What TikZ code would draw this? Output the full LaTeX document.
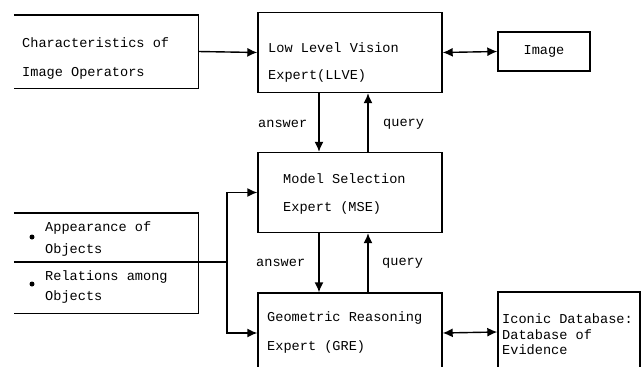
\documentclass[tikz,border=0pt]{standalone}
\usepackage{fontspec}
\setmonofont{Liberation Mono}
\usetikzlibrary{arrows.meta,positioning}

\begin{document}
\begin{tikzpicture}[x=1pt, y=-1pt, >={Latex[length=10pt,width=9pt]},
  box/.style={draw, line width=1.4pt, inner sep=0pt},
  openbox/.style={inner sep=0pt},
  txt/.style={anchor=west, inner sep=0pt, font=\ttfamily\fontsize{13.6}{15}\selectfont},
  link/.style={line width=1.4pt}]
  \useasboundingbox (0,0) rectangle (643,367);
  % knowledge boxes on the left (open on the left side)
  \node[openbox, minimum width=184, minimum height=73] (charops) at (106,51.5) {};
  \draw[link] (charops.north west) -- (charops.north east) -- (charops.south east) -- (charops.south west);
  \node[txt] (charl1) at (22,43) {Characteristics of};
  \node[txt] (charl2) at (22,73) {Image Operators};
  \node[openbox, minimum width=184, minimum height=100] (objs) at (106,263) {};
  \draw[link] (objs.north west) -- (objs.north east) -- (objs.south east) -- (objs.south west);
  \fill (32,237) circle (2.5) (32,284) circle (2.5);
  \node[txt] (appl1) at (45,228) {Appearance of};
  \node[txt] (appl2) at (45,250) {Objects};
  \node[txt] (rell1) at (45,277) {Relations among};
  \node[txt] (rell2) at (45,297) {Objects};
  % experts
  \node[box, minimum width=184, minimum height=80] (llve) at (350,52.5) {};
  \node[txt] (llvel1) at (268,48) {Low Level Vision};
  \node[txt] (llvel2) at (268,76) {Expert(LLVE)};
  \node[box, minimum width=184, minimum height=80] (mse) at (350,192.5) {};
  \node[txt] (msel1) at (283,179) {Model Selection};
  \node[txt] (msel2) at (283,208) {Expert (MSE)};
  \node[box, minimum width=184, minimum height=80] (gre) at (350,333) {};
  \node[txt] (grel1) at (267,318) {Geometric Reasoning};
  \node[txt] (grel2) at (267,347) {Expert (GRE)};
  % data on the right
  \node[box, minimum width=92, minimum height=39] (image) at (544,51.5) {};
  \node[txt, anchor=center] (imagel) at (image.center) {Image};
  \node[box, minimum width=142, minimum height=80] (iconic) at (569,332) {};
  \node[txt] (iconl1) at (502,319) {Iconic Database:};
  \node[txt] (iconl2) at (502,335) {Database of};
  \node[txt] (iconl3) at (502,350) {Evidence};
  % answer / query links
  \coordinate (ansx) at (319,0);
  \coordinate (qryx) at (368,0);
  \draw[link, ->] (llve.south -| ansx) -- (mse.north -| ansx);
  \draw[link, ->] (mse.north -| qryx) -- (llve.south -| qryx);
  \draw[link, ->] (mse.south -| ansx) -- (gre.north -| ansx);
  \draw[link, ->] (gre.north -| qryx) -- (mse.south -| qryx);
  \node[txt] (ans1) at (258,124) {answer};
  \node[txt] (qry1) at (383,124) {query};
  \node[txt] (ans2) at (256,263) {answer};
  \node[txt] (qry2) at (382,263) {query};
  % side links
  \draw[link, ->] (charops.east) -- (llve.west);
  \draw[link, <->] (llve.east) -- (image.west);
  \draw[link, <->] (gre.east) -- (iconic.west);
  \coordinate (jct) at (227,262);
  \draw[link] (objs.west |- jct) -- (jct);
  \draw[link, ->] (jct) |- (mse.west);
  \draw[link, ->] (jct) |- (gre.west);
\end{tikzpicture}
\end{document}
